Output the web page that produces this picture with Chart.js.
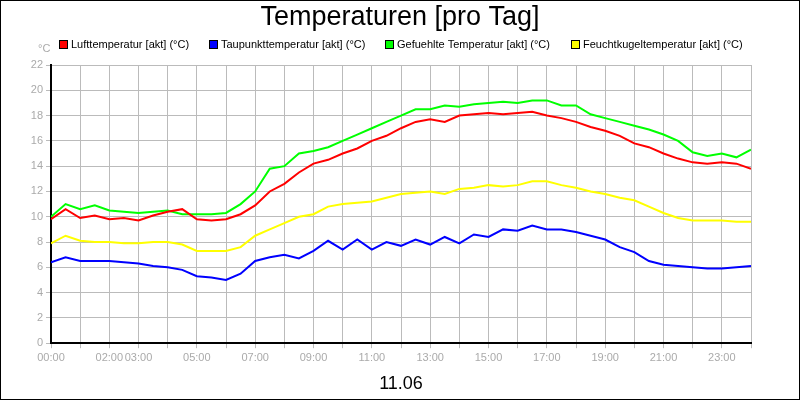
<!DOCTYPE html><html><head><meta charset="utf-8">
<script src="https://cdn.jsdelivr.net/npm/chart.js@4/dist/chart.umd.min.js"></script>
<style>body{margin:0;background:#fff}#w{position:relative;width:800px;height:400px;box-sizing:border-box;border:1px solid #000}</style>
</head><body><div id="w"><canvas id="c" width="798" height="398"></canvas></div>
<script>
const hours=[0,0.5,1,1.5,2,2.5,3,3.5,4,4.5,5,5.5,6,6.5,7,7.5,8,8.5,9,9.5,10,10.5,11,11.5,12,12.5,13,13.5,14,14.5,15,15.5,16,16.5,17,17.5,18,18.5,19,19.5,20,20.5,21,21.5,22,22.5,23,23.5,24];
const luft=[9.8,10.6,9.9,10.1,9.8,9.9,9.7,10.1,10.4,10.6,9.8,9.7,9.8,10.2,10.9,12.0,12.6,13.5,14.2,14.5,15.0,15.4,16.0,16.4,17.0,17.5,17.7,17.5,18.0,18.1,18.2,18.1,18.2,18.3,18.0,17.8,17.5,17.1,16.8,16.4,15.8,15.5,15.0,14.6,14.3,14.2,14.3,14.2,13.8];
const taupunkt=[6.4,6.8,6.5,6.5,6.5,6.4,6.3,6.1,6.0,5.8,5.3,5.2,5.0,5.5,6.5,6.8,7.0,6.7,7.3,8.1,7.4,8.2,7.4,8.0,7.7,8.2,7.8,8.4,7.9,8.6,8.4,9.0,8.9,9.3,9.0,9.0,8.8,8.5,8.2,7.6,7.2,6.5,6.2,6.1,6.0,5.9,5.9,6.0,6.1];
const gefuehlt=[10.0,11.0,10.6,10.9,10.5,10.4,10.3,10.4,10.5,10.2,10.2,10.2,10.3,11.0,12.0,13.8,14.0,15.0,15.2,15.5,16.0,16.5,17.0,17.5,18.0,18.5,18.5,18.8,18.7,18.9,19.0,19.1,19.0,19.2,19.2,18.8,18.8,18.1,17.8,17.5,17.2,16.9,16.5,16.0,15.1,14.8,15.0,14.7,15.3];
const feucht=[7.9,8.5,8.1,8.0,8.0,7.9,7.9,8.0,8.0,7.8,7.3,7.3,7.3,7.6,8.5,9.0,9.5,10.0,10.2,10.8,11.0,11.1,11.2,11.5,11.8,11.9,12.0,11.8,12.2,12.3,12.5,12.4,12.5,12.8,12.8,12.5,12.3,12.0,11.8,11.5,11.3,10.8,10.3,9.9,9.7,9.7,9.7,9.6,9.6];
const names=['Lufttemperatur [akt] (°C)','Taupunkttemperatur [akt] (°C)','Gefuehlte Temperatur [akt] (°C)','Feuchtkugeltemperatur [akt] (°C)'];
const colors=['#ff0000','#0000ff','#00ff00','#ffff00'];
const labeledHours=[0,2,3,5,7,9,11,13,15,17,19,21,23];
const yTicks=[0,2,4,6,8,10,12,14,16,18,20,22];
const series=[luft,taupunkt,gefuehlt,feucht];
const F='"Liberation Sans", Arial, sans-serif';
const deco={id:'deco',afterDraw(ch){const x=ch.ctx;x.save();x.fillStyle='#000';x.textAlign='center';x.textBaseline='middle';
x.font='27px '+F;x.fillText('Temperaturen [pro Tag]',399,17);
x.font='11px '+F;x.textAlign='left';let px=[58,208,384,570];
names.forEach((n,i)=>{x.fillStyle=colors[i];x.fillRect(px[i],39,9,9);x.strokeStyle='#000';x.lineWidth=1;x.strokeRect(px[i]+.5,39.5,8,8);x.fillStyle='#000';x.fillText(n,px[i]+12,44);});
x.fillStyle='#aaa';x.fillText('°C',37,48);x.restore();}};
new Chart(document.getElementById('c'),{type:'line',data:{datasets:series.map((s,i)=>({label:names[i],data:hours.map((h,j)=>({x:h,y:s[j]})),borderColor:colors[i],borderWidth:2,pointRadius:0,tension:0}))},
options:{responsive:false,animation:false,layout:{padding:{top:64,right:48,left:0,bottom:0}},plugins:{legend:{display:false},tooltip:{enabled:false}},
scales:{x:{type:'linear',min:0,max:24,ticks:{stepSize:1,autoSkip:false,maxRotation:0,color:'#aaa',font:{size:11,family:F},callback:v=>labeledHours.includes(v)?String(v).padStart(2,'0')+':00':''},grid:{color:'#bbb',tickLength:5},border:{color:'#000',width:2},title:{display:true,text:'11.06',color:'#000',font:{size:18,family:F},padding:{top:6}}},
y:{min:0,max:22,afterBuildTicks:s=>{s.ticks=yTicks.map(v=>({value:v}))},afterFit:s=>{s.width=50},ticks:{color:'#aaa',font:{size:11,family:F}},grid:{color:'#bbb',tickLength:5},border:{color:'#000',width:2}}}},plugins:[deco]});
</script></body></html>
